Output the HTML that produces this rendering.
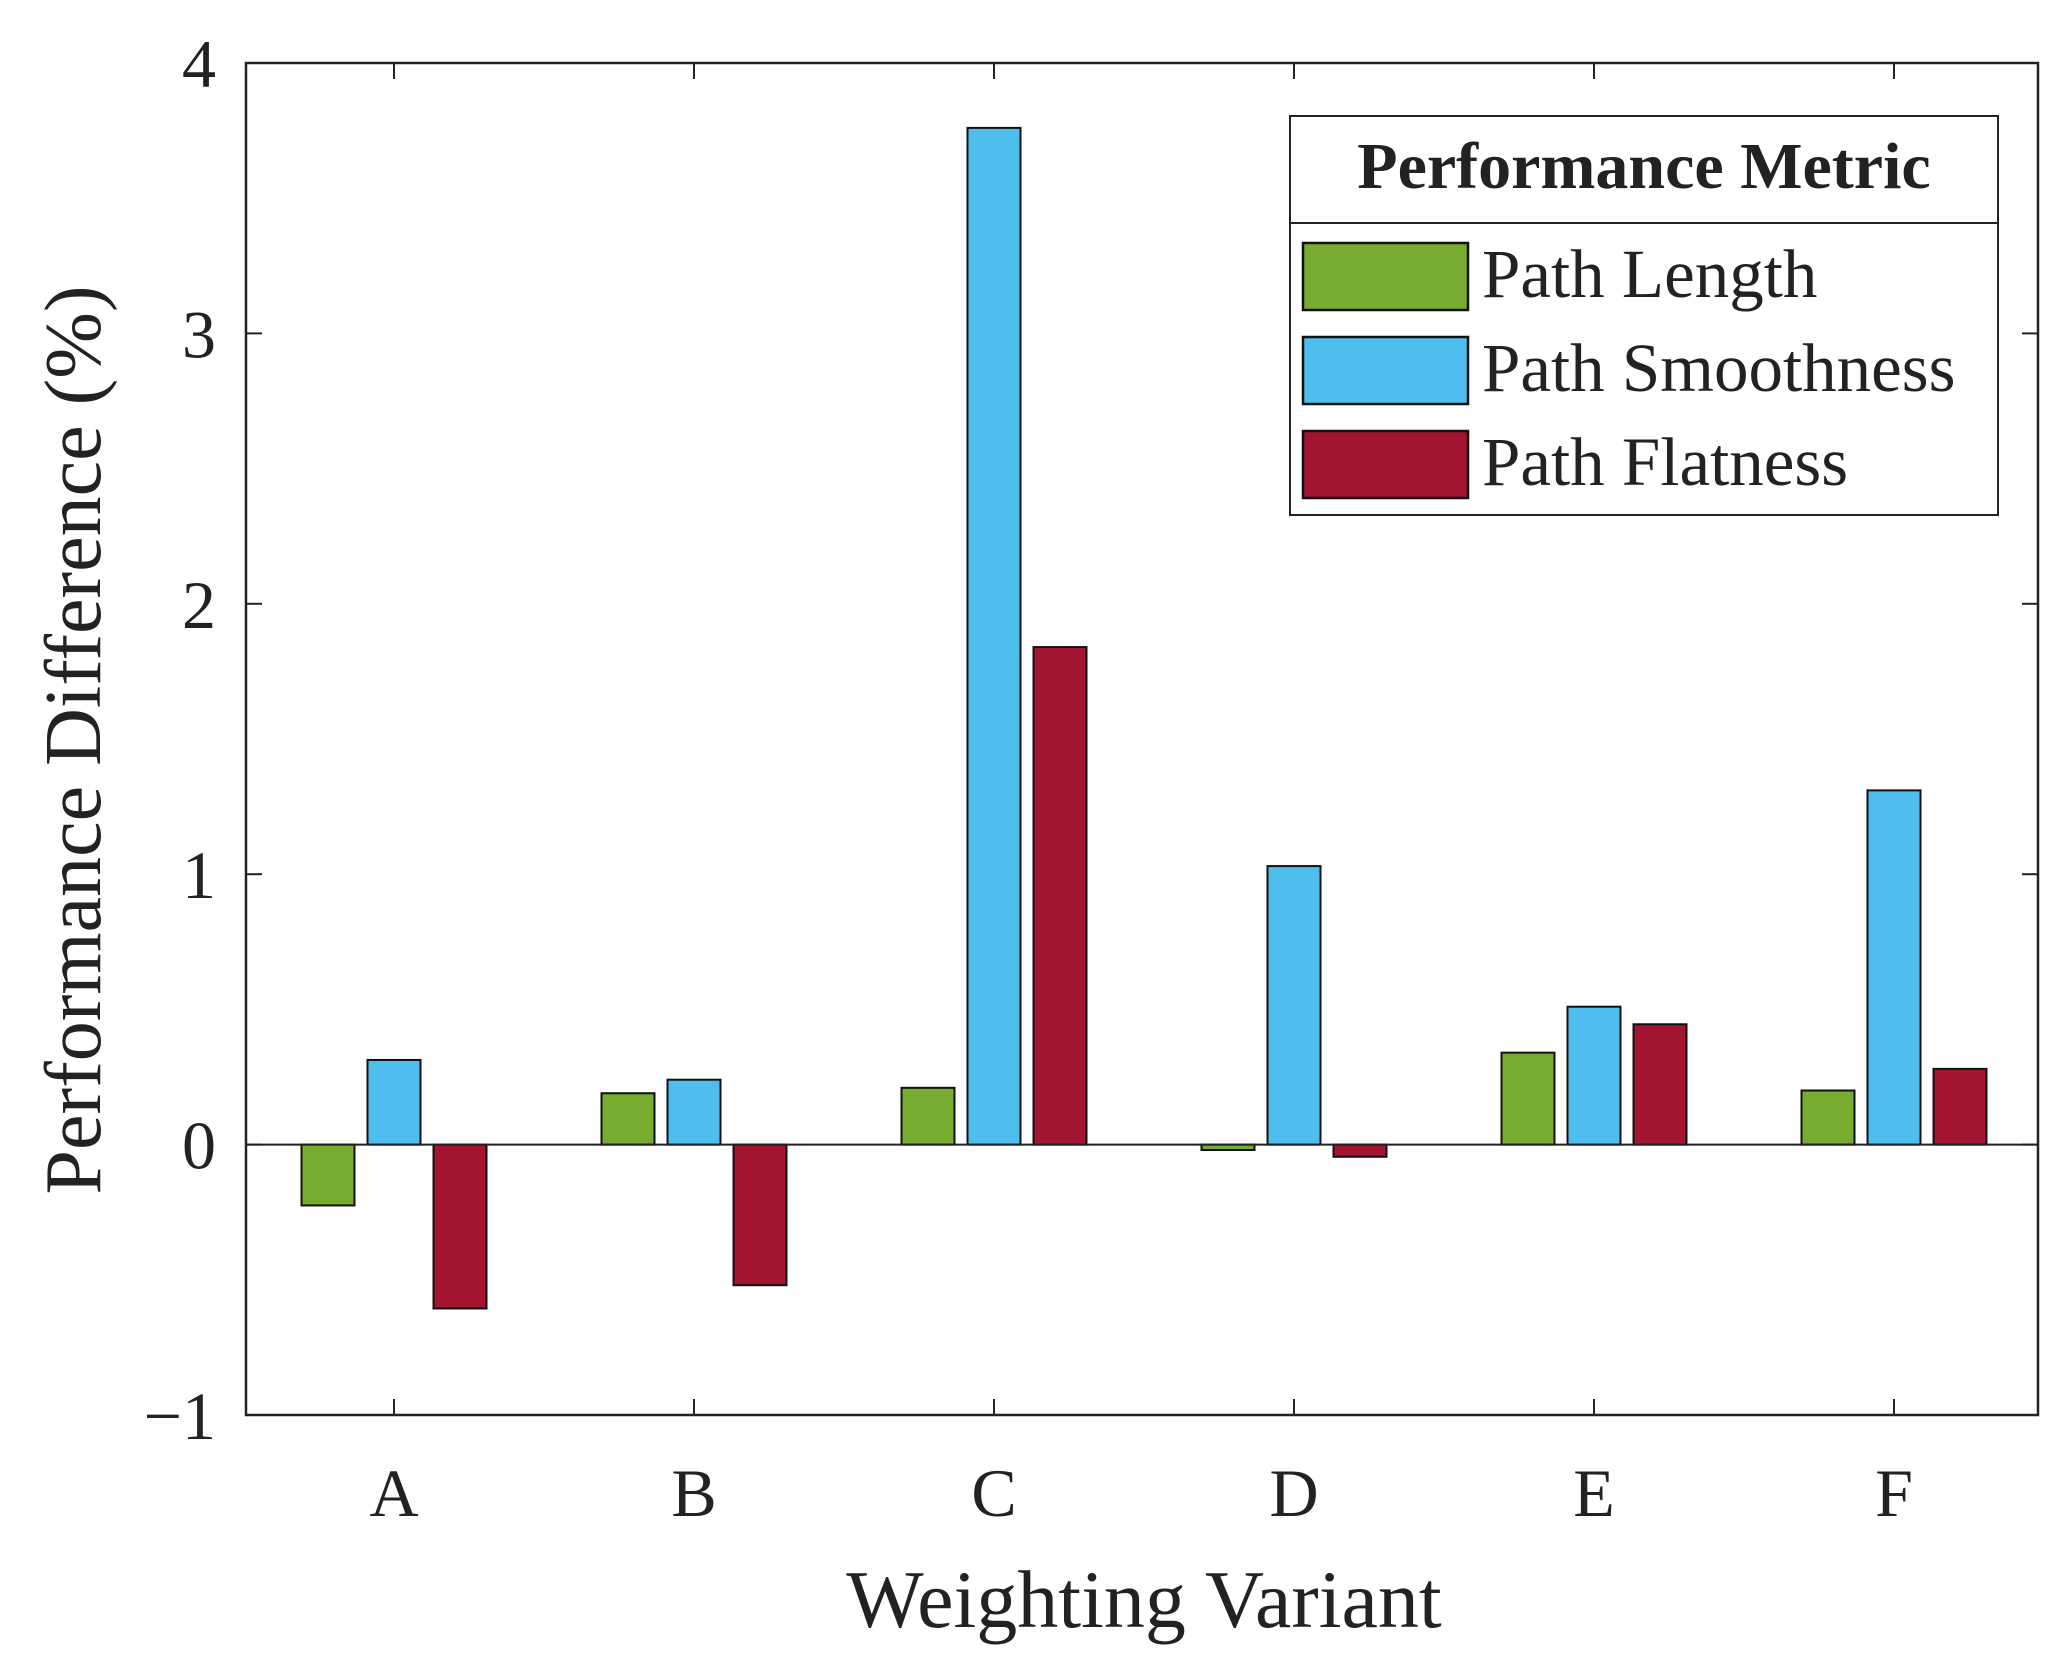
<!DOCTYPE html>
<html><head><meta charset="utf-8"><style>
html,body{margin:0;padding:0;background:#fff}
svg{display:block}
text{font-family:"Liberation Serif",serif;fill:#222}
</style></head><body>
<svg id="chart" width="2051" height="1666" viewBox="0 0 2051 1666" xmlns="http://www.w3.org/2000/svg">
<g id="plot"></g>
</svg>
<script>
const categories = ["A","B","C","D","E","F"];
const seriesNames = ["Path Length","Path Smoothness","Path Flatness"];
const seriesColors = ["#77ac30","#4dbeee","#a2142f"];
const pathLength = [-0.225, 0.19, 0.21, -0.02, 0.34, 0.20];
const pathSmoothness = [0.313, 0.24, 3.76, 1.03, 0.51, 1.31];
const pathFlatness = [-0.606, -0.52, 1.84, -0.045, 0.445, 0.28];
const yTicks = [-1, 0, 1, 2, 3, 4];
const yTickLabels = ["\u22121","0","1","2","3","4"];

const NS = "http://www.w3.org/2000/svg";
const L = 246, R = 2038, T = 63, B = 1415;
const yMin = -1, yMax = 4;
function yS(v){ return B - (v - yMin) / (yMax - yMin) * (B - T); }
function xS(i){ return 394 + 300 * i; }
const g = document.getElementById('plot');
function mk(tag, attrs, parent){
  const e = document.createElementNS(NS, tag);
  for (const k in attrs) e.setAttribute(k, attrs[k]);
  (parent || g).appendChild(e);
  return e;
}
const series = [pathLength, pathSmoothness, pathFlatness];
const offsets = [-66, 0, 66];
const bw = 53;
series.forEach((vals, s) => {
  vals.forEach((v, i) => {
    const y0 = yS(0), y1 = yS(v);
    const r = mk('rect', {x: xS(i) + offsets[s] - bw/2, y: Math.min(y0, y1), width: bw, height: Math.abs(y1 - y0), fill: seriesColors[s], stroke: '#111', 'stroke-width': 2});
    
    
  });
});
const zl = mk('line', {x1: L, x2: R, y1: yS(0), y2: yS(0), stroke: '#222', 'stroke-width': 2});


const box = mk('rect', {x: L, y: T, width: R - L, height: B - T, fill: 'none', stroke: '#222', 'stroke-width': 2.5});


yTicks.forEach((t, k) => {
  const y = yS(t);
  mk('line', {x1: L, x2: L + 16, y1: y, y2: y, stroke: '#222', 'stroke-width': 2});
  mk('line', {x1: R, x2: R - 16, y1: y, y2: y, stroke: '#222', 'stroke-width': 2});
  const tx = mk('text', {x: 216, y: y + 24, 'text-anchor': 'end', 'font-size': 68});
  tx.textContent = yTickLabels[k];
  
  
});
categories.forEach((c, i) => {
  const x = xS(i);
  mk('line', {x1: x, x2: x, y1: B, y2: B - 16, stroke: '#222', 'stroke-width': 2});
  mk('line', {x1: x, x2: x, y1: T, y2: T + 16, stroke: '#222', 'stroke-width': 2});
  const tx = mk('text', {x: x, y: 1516, 'text-anchor': 'middle', 'font-size': 68});
  tx.textContent = c;
  
  
});
const xt = mk('text', {x: 1144, y: 1627, 'text-anchor': 'middle', 'font-size': 82});
xt.textContent = 'Weighting Variant';


const yt = mk('text', {x: 0, y: 0, 'text-anchor': 'middle', 'font-size': 80, transform: 'translate(100,740) rotate(-90)'});
yt.textContent = 'Performance Difference (%)';


const lg = mk('g', {});


mk('rect', {x: 1290, y: 116, width: 708, height: 399, fill: '#fff', stroke: '#222', 'stroke-width': 2}, lg);
mk('line', {x1: 1290, x2: 1998, y1: 223, y2: 223, stroke: '#222', 'stroke-width': 2}, lg);
const lt = mk('text', {x: 1644, y: 188, 'text-anchor': 'middle', 'font-size': 66, 'font-weight': 'bold'}, lg);
lt.textContent = 'Performance Metric';


const rowsY = [243, 337, 431];
seriesNames.forEach((n, s) => {
  const sw = mk('rect', {x: 1303, y: rowsY[s], width: 165, height: 67, fill: seriesColors[s], stroke: '#111', 'stroke-width': 2.5}, lg);
  
  
  const t = mk('text', {x: 1482, y: rowsY[s] + 54, 'font-size': 69}, lg);
  t.textContent = n;
  
  
});
</script>
</body></html>
